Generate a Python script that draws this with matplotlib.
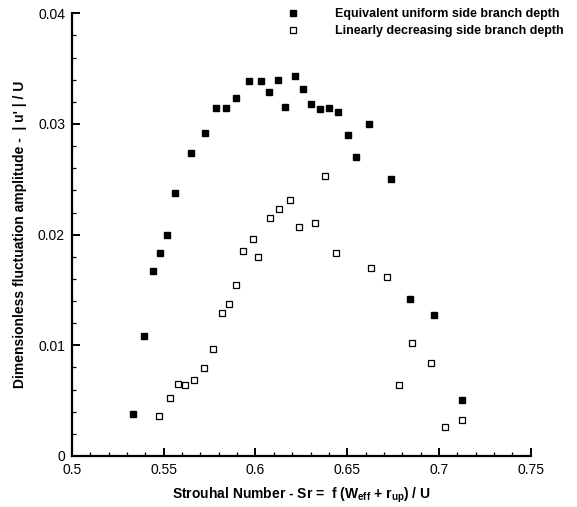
import matplotlib
matplotlib.use("Agg")
import matplotlib.pyplot as plt
from matplotlib.ticker import MultipleLocator
import numpy as np

plt.rcParams['font.family'] = ['Liberation Sans', 'DejaVu Sans']

# Equivalent uniform side branch depth
sr_uniform = [0.5330, 0.5395, 0.5439, 0.5477, 0.5515, 0.5564, 0.5646, 0.5723,
              0.5783, 0.5838, 0.5892, 0.5963, 0.6029, 0.6073, 0.6122, 0.6160,
              0.6215, 0.6258, 0.6302, 0.6351, 0.6401, 0.6450, 0.6504, 0.6548,
              0.6619, 0.6739, 0.6843, 0.6974, 0.7127]
amp_uniform = [0.00377, 0.01081, 0.01668, 0.01831, 0.01994, 0.02373, 0.02734,
               0.02915, 0.03141, 0.03141, 0.03231, 0.03385, 0.03385, 0.03285,
               0.03394, 0.03150, 0.03430, 0.03313, 0.03177, 0.03132, 0.03141,
               0.03105, 0.02897, 0.02698, 0.02996, 0.02500, 0.01416, 0.01271,
               0.00503]

# Linearly decreasing side branch depth
sr_linear = [0.5474, 0.5534, 0.5575, 0.5614, 0.5663, 0.5721, 0.5770, 0.5816,
             0.5856, 0.5892, 0.5932, 0.5984, 0.6011, 0.6078, 0.6126, 0.6186,
             0.6238, 0.6322, 0.6381, 0.6441, 0.6630, 0.6714, 0.6783, 0.6854,
             0.6958, 0.7033, 0.7124]
amp_linear = [0.00359, 0.00524, 0.00650, 0.00639, 0.00687, 0.00798, 0.00964,
              0.01294, 0.01370, 0.01547, 0.01856, 0.01963, 0.01796, 0.02147,
              0.02229, 0.02313, 0.02067, 0.02105, 0.02529, 0.01832, 0.01701,
              0.01620, 0.00644, 0.01018, 0.00840, 0.00262, 0.00322]

xticks = [0.5, 0.55, 0.6, 0.65, 0.7, 0.75]
xticklabels = ['0.5', '0.55', '0.6', '0.65', '0.7', '0.75']
yticks = [0, 0.01, 0.02, 0.03, 0.04]
yticklabels = ['0', '0.01', '0.02', '0.03', '0.04']

fig = plt.figure(figsize=(5.77, 5.07), dpi=100)
ax = fig.add_axes([0.1248, 0.1006, 0.795, 0.8732])

ax.plot(sr_uniform, amp_uniform, 's', color='black', markersize=4.7,
        linestyle='none', label='Equivalent uniform side branch depth')
ax.plot(sr_linear, amp_linear, 's', markerfacecolor='white',
        markeredgecolor='black', markeredgewidth=0.9, markersize=4.8,
        linestyle='none', label='Linearly decreasing side branch depth')

ax.set_xlim(0.5, 0.75)
ax.set_ylim(0, 0.04)
ax.set_xticks(xticks)
ax.set_xticklabels(xticklabels)
ax.set_yticks(yticks)
ax.set_yticklabels(yticklabels)
ax.xaxis.set_minor_locator(MultipleLocator(0.01))
ax.yaxis.set_minor_locator(MultipleLocator(0.002))

for side in ['top', 'right']:
    ax.spines[side].set_visible(False)
for side in ['left', 'bottom']:
    ax.spines[side].set_linewidth(1.6)

ax.tick_params(which='major', direction='in', length=5.5, width=1.4,
               labelsize=10, pad=5)
ax.tick_params(which='minor', direction='in', length=3, width=0.9)

ax.set_xlabel(r"Strouhal Number - Sr =  f (W$\mathregular{_{eff}}$ + r$\mathregular{_{up}}$) / U",
              fontsize=10, fontweight='bold', labelpad=6)
ax.set_ylabel("Dimensionless fluctuation amplitude -  | u' | / U",
              fontsize=10, fontweight='bold', labelpad=8)

fig.legend(loc='upper left', bbox_to_anchor=(0.486, 0.984), frameon=False,
           prop={'weight': 'bold', 'size': 9.0}, borderpad=0, borderaxespad=0,
           handlelength=2.0, handletextpad=2.36, labelspacing=0.4,
           numpoints=1)

fig.savefig('out.png', dpi=100)
